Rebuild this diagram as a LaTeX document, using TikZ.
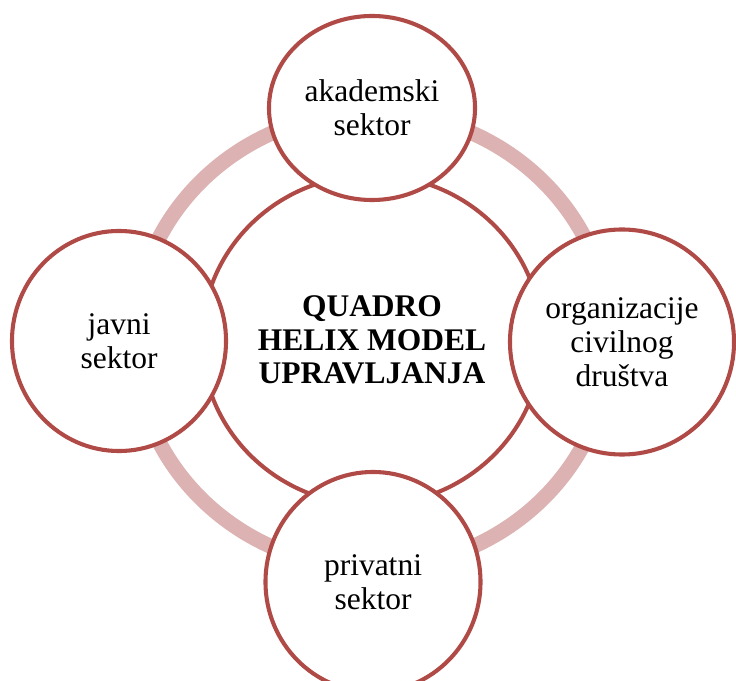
\documentclass[tikz,border=0pt]{standalone}
\usepackage{fontspec}
\setmainfont{Liberation Serif}
\usetikzlibrary{shapes.geometric}
\definecolor{helixred}{RGB}{176,74,70}
\definecolor{helixpink}{RGB}{221,178,178}

\begin{document}
\begin{tikzpicture}[x=0.025cm,y=-0.025cm,
  sector/.style={ellipse,draw=helixred,line width=2.9pt,fill=white,inner sep=0pt,align=center,font=\fontsize{22.4pt}{24pt}\selectfont},
  hub/.style={sector,font=\fontsize{22.4pt}{24pt}\selectfont\bfseries,minimum width=8.5cm,minimum height=8.25cm}]
  \clip (0,0) rectangle (736,681);
  %ring
  \draw[helixpink,line width=10.7pt] (372,340) ellipse [x radius=238,y radius=228];
  %centre
  \node[hub] (hub) at (372,340) {QUADRO\\HELIX MODEL\\UPRAVLJANJA};
  %sectors
  \node[sector,minimum width=5.15cm,minimum height=4.6cm] (akad) at (372,108) {akademski\\sektor};
  \node[sector,minimum width=5.35cm,minimum height=5.5cm] (javni) at (119,341) {javni\\sektor};
  \node[sector,minimum width=5.6cm,minimum height=5.625cm] (civil) at (622,342) {organizacije\\civilnog\\društva};
  \node[sector,minimum width=5.375cm,minimum height=5.5cm] (priv) at (373,582) {privatni\\sektor};
\end{tikzpicture}
\end{document}
